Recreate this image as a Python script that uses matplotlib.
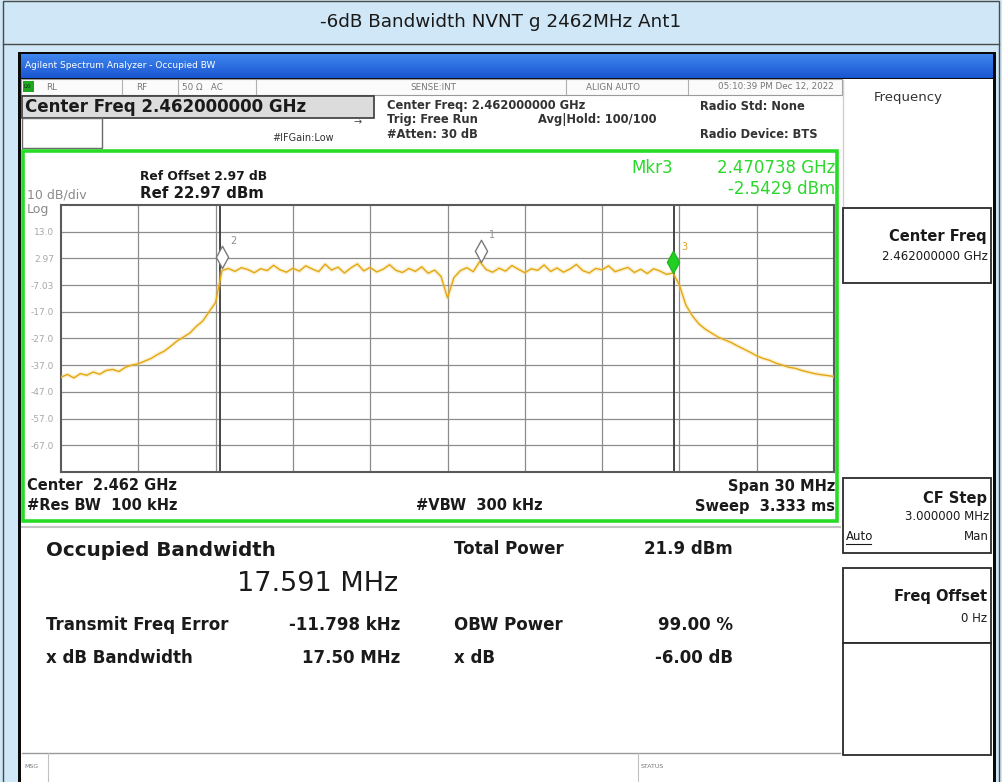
import numpy as np
import matplotlib
matplotlib.use("Agg")
import matplotlib.pyplot as plt
from matplotlib.patches import Rectangle
from matplotlib.path import Path

W, H = 1002, 782
plt.rcParams["font.family"] = ["DejaVu Sans"]

# ---- trace: dBm, one point every 0.25 MHz, 2.447 -> 2.477 GHz ----
CENTER_GHZ = 2.462
SPAN_GHZ = 0.030
STEP_GHZ = 0.00025
level_dbm = [
    -41.5, -40.5, -41.8, -40.2, -40.8, -39.6, -40.4, -39.0, -38.6, -39.4,
    -37.8, -37.0, -36.5, -35.5, -34.5, -33.0, -31.8, -30.0, -28.0, -26.5,
    -25.0, -22.5, -20.5, -17.0, -13.5, -1.5, -0.8, -1.9, -0.5, -1.2,
    -2.4, -0.9, -1.6, 0.4, -1.3, -2.2, -0.7, -1.8, 0.2, -1.0,
    -2.0, 0.8, -1.4, -0.3, -2.5, -0.6, 0.9, -1.7, -0.4, -2.1,
    -1.1, 0.6, -1.5, -2.3, -0.8, -1.9, -0.2, -2.6, -1.4, -3.8,
    -11.8, -4.2, -1.6, -0.5, -2.0, 1.8, -1.2, -2.2, -0.7, -1.8,
    0.3, -1.1, -2.4, -0.9, -1.5, 0.5, -1.9, -0.6, -2.2, -1.0,
    0.7, -1.6, -2.5, -0.8, -1.3, 0.2, -2.0, -1.2, -0.4, -2.3,
    -1.1, -2.7, -0.9, -1.8, -3.0, -2.5, -7.0, -14.5, -18.5, -21.5,
    -23.5, -25.0, -26.5, -27.5, -28.5, -29.8, -31.0, -32.2, -33.5, -34.5,
    -35.2, -36.3, -37.0, -37.8, -38.2, -39.0, -39.6, -40.2, -40.6, -40.9,
    -41.3,
]
freq_ghz = CENTER_GHZ - SPAN_GHZ / 2 + np.arange(len(level_dbm)) * STEP_GHZ

REF_DBM = 22.97
DB_PER_DIV = 10
ytick_labels = ["13.0", "2.97", "-7.03", "-17.0", "-27.0", "-37.0", "-47.0", "-57.0", "-67.0"]

marker_ids = ["1", "2", "3"]
marker_freq = [2.46330, 2.453238, 2.470738]
marker_dbm = [1.8, -0.6, -2.5429]
obw_edges = [2.45319, 2.47078]

meas_left_names = ["Transmit Freq Error", "x dB Bandwidth"]
meas_left_values = ["-11.798 kHz", "17.50 MHz"]
meas_right_names = ["Total Power", "OBW Power", "x dB"]
meas_right_values = ["21.9 dBm", "99.00 %", "-6.00 dB"]

fig = plt.figure(figsize=(W / 100, H / 100), dpi=100)

# ---- background canvas in pixel coordinates ----
bg = fig.add_axes([0, 0, 1, 1])
bg.set_xlim(0, W)
bg.set_ylim(H, 0)
bg.axis("off")


def box(x0, y0, x1, y1, **kw):
    bg.add_patch(Rectangle((x0, y0), x1 - x0, y1 - y0, **kw))


def t(x, y, s, **kw):
    kw.setdefault("va", "center")
    kw.setdefault("color", "#1a1a1a")
    kw.setdefault("zorder", 3)
    return bg.text(x, y, s, **kw)


box(0, 0, W, H, facecolor="#cfe7f6", edgecolor="none")
box(3, 1, W - 3, H + 5, facecolor="none", edgecolor="#4a4a4a", lw=1)
bg.plot([3, W - 3], [44, 44], color="#4a4a4a", lw=1)
t(W / 2, 22, "-6dB Bandwidth NVNT g 2462MHz Ant1", ha="center", fontsize=13.2)

# analyzer screenshot frame
box(18, 52, 996, H + 5, facecolor="#0a0a0a", edgecolor="none", zorder=1)
grad = np.linspace(0, 1, 30).reshape(-1, 1)
bar_cmap = matplotlib.colors.LinearSegmentedColormap.from_list("bar", ["#3f86ee", "#1a56d2"])
bg.imshow(grad, extent=(21, 993, 78, 54), cmap=bar_cmap, aspect="auto", zorder=2)
t(25, 65, "Agilent Spectrum Analyzer - Occupied BW", color="white", fontsize=6.5)
box(21, 79, 993, H + 5, facecolor="white", edgecolor="none", zorder=1)

# status row
box(21, 79, 842, 95, facecolor="#fbfbfb", edgecolor="#9a9a9a", lw=0.8, zorder=2)
box(23, 81, 34, 92, facecolor="#1fa81f", edgecolor="none", zorder=3)
t(24, 87, "LXI", fontsize=3.5, color="#102010", zorder=4)
for sx in [122, 178, 256, 566, 688]:
    bg.plot([sx, sx], [80, 94], color="#b0b0b0", lw=0.8, zorder=3)
for sx, s in [(46, "RL"), (136, "RF"), (182, "50 Ω   AC"), (410, "SENSE:INT"), (586, "ALIGN AUTO")]:
    t(sx, 87, s, fontsize=6.3, color="#777777")
t(834, 87, "05:10:39 PM Dec 12, 2022", fontsize=6.3, color="#777777", ha="right")

# center freq banner
box(22, 96, 374, 118, facecolor="#dcdcdc", edgecolor="#3a3a3a", lw=1.2, zorder=2)
t(25, 107, "Center Freq 2.462000000 GHz", fontsize=12, fontweight="bold")
box(22, 118, 102, 148, facecolor="white", edgecolor="#6a6a6a", lw=1, zorder=2)
t(354, 122, "→", fontsize=7, color="#444444")
t(272, 138, "#IFGain:Low", fontsize=7, color="#333333")
info_kw = dict(fontsize=8.3, fontweight="bold", color="#333333")
t(387, 106, "Center Freq: 2.462000000 GHz", **info_kw)
t(387, 119, "Trig: Free Run", **info_kw)
t(538, 119, "Avg|Hold: 100/100", **info_kw)
t(387, 134, "#Atten: 30 dB", **info_kw)
t(700, 106, "Radio Std: None", **info_kw)
t(700, 134, "Radio Device: BTS", **info_kw)

# green measurement frame and texts around the graticule
box(23, 151, 837, 521, facecolor="none", edgecolor="#26dc26", lw=2.6, zorder=4)
bg.plot([22, 840], [527, 527], color="#c4c4c4", lw=1.5, zorder=2)
t(140, 176, "Ref Offset 2.97 dB", fontsize=8.8, fontweight="bold")
t(140, 194, "Ref 22.97 dBm", fontsize=10.8, fontweight="bold")
t(27, 195, "10 dB/div", fontsize=9, color="#8a8a8a")
t(27, 210, "Log", fontsize=9, color="#8a8a8a")
green_kw = dict(fontsize=12, color="#2ad82a", ha="right")
t(673, 168, "Mkr3", **green_kw)
t(835, 168, "2.470738 GHz", **green_kw)
t(835, 189, "-2.5429 dBm", **green_kw)
t(27, 486, "Center  2.462 GHz", fontsize=10.5, fontweight="bold")
t(27, 506, "#Res BW  100 kHz", fontsize=10.5, fontweight="bold")
t(416, 506, "#VBW  300 kHz", fontsize=10.5, fontweight="bold")
t(835, 486, "Span 30 MHz", fontsize=10.5, fontweight="bold", ha="right")
t(835, 506, "Sweep  3.333 ms", fontsize=10.5, fontweight="bold", ha="right")

# measurement results
t(46, 551, "Occupied Bandwidth", fontsize=14.3, fontweight="bold")
t(237, 584, "17.591 MHz", fontsize=19.5)
for i, (name, val) in enumerate(zip(meas_left_names, meas_left_values)):
    y = 625 + i * 33
    t(46, y, name, fontsize=12, fontweight="bold")
    t(400, y, val, fontsize=12, fontweight="bold", ha="right")
for i, (name, val) in enumerate(zip(meas_right_names, meas_right_values)):
    y = 549 + [0, 76, 109][i]
    t(454, y, name, fontsize=12, fontweight="bold")
    t(733, y, val, fontsize=12, fontweight="bold", ha="right")

# message bar
bg.plot([22, 840], [753, 753], color="#9a9a9a", lw=1, zorder=2)
bg.plot([48, 48], [753, H], color="#c0c0c0", lw=0.8, zorder=2)
bg.plot([638, 638], [753, H], color="#c0c0c0", lw=0.8, zorder=2)
t(24, 767, "MSG", fontsize=4.5, color="#777777")
t(641, 767, "STATUS", fontsize=4.5, color="#777777")

# right soft-key panel
bg.plot([843, 843], [80, 208], color="#cfcfcf", lw=1, zorder=2)
t(874, 98, "Frequency", fontsize=9.5, color="#333333")
for y0, y1 in [(208, 283), (478, 553), (568, 643), (643, 755)]:
    box(843, y0, 991, y1, facecolor="white", edgecolor="#2a2a2a", lw=1.3, zorder=2)
key_kw = dict(fontsize=10.5, fontweight="bold", ha="right")
t(987, 236, "Center Freq", **key_kw)
t(988, 257, "2.462000000 GHz", fontsize=8.5, ha="right")
t(987, 498, "CF Step", **key_kw)
t(989, 517, "3.000000 MHz", fontsize=8.5, ha="right")
t(846, 537, "Auto", fontsize=8.5)
bg.plot([846, 871], [544, 544], color="#1a1a1a", lw=0.8, zorder=3)
t(989, 537, "Man", fontsize=8.5, ha="right")
t(987, 596, "Freq Offset", **key_kw)
t(987, 619, "0 Hz", fontsize=8.5, ha="right")

# ---- spectrum graticule ----
ax = fig.add_axes([61 / W, 1 - 472 / H, 773 / W, 267 / H], zorder=5)
f0 = CENTER_GHZ - SPAN_GHZ / 2
ax.set_xlim(f0, f0 + SPAN_GHZ)
ax.set_ylim(REF_DBM - 10 * DB_PER_DIV, REF_DBM)
ax.set_xticks(f0 + np.arange(1, 10) * SPAN_GHZ / 10)
ax.set_xticklabels([])
ax.set_yticks(REF_DBM - DB_PER_DIV * np.arange(1, 10))
ax.set_yticklabels(ytick_labels, fontsize=6.5, color="#a8a8a8")
ax.tick_params(length=0, pad=5)
ax.grid(True, color="#8c8c8c", lw=0.9)
for sp in ax.spines.values():
    sp.set_color("#5a5a5a")
    sp.set_linewidth(1.5)
for fe in obw_edges:
    ax.axvline(fe, color="#454545", lw=1.4, zorder=2)

ax.plot(freq_ghz, level_dbm, color="#f6d27a", lw=3, alpha=0.35, zorder=3)
ax.plot(freq_ghz, level_dbm, color="#e3a810", lw=1.0, zorder=4)

# markers: diamonds sitting on the trace point
diamond = Path([(0, 0), (0.55, 1), (0, 2), (-0.55, 1), (0, 0)],
               [Path.MOVETO, Path.LINETO, Path.LINETO, Path.LINETO, Path.CLOSEPOLY])
for mid, mf, md in zip(marker_ids, marker_freq, marker_dbm):
    active = mid == "3"
    ax.plot([mf], [md], marker=diamond, markersize=32, linestyle="none",
            markerfacecolor="#22d022" if active else "white",
            markeredgecolor="#22b822" if active else "#7a7a7a",
            markeredgewidth=1.0, zorder=6)
    ax.annotate(mid, (mf, md), xytext=(6, 17), textcoords="offset points",
                fontsize=7, color="#e0a020" if active else "#909090", zorder=7)

fig.savefig("out.png", dpi=100)
